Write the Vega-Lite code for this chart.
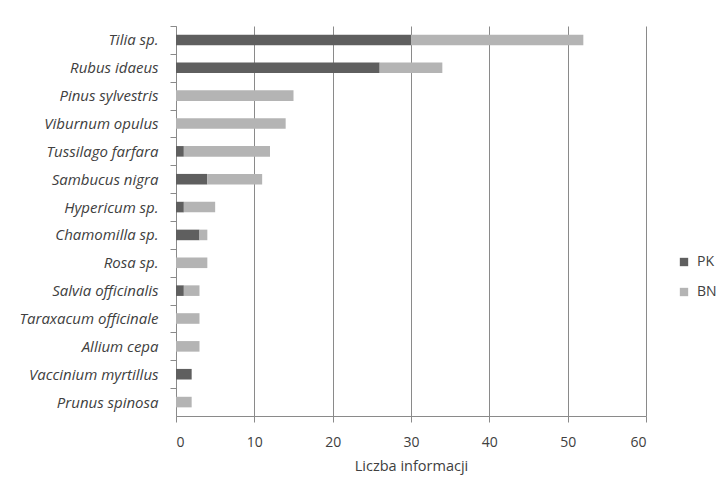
{
  "$schema": "https://vega.github.io/schema/vega-lite/v6.json",
  "width": 470,
  "height": 390,
  "autosize": {"type": "none"},
  "padding": {"left": 176, "top": 26, "right": 77, "bottom": 67},
  "background": "white",
  "config": {
    "view": {"stroke": null},
    "font": "Open Sans",
    "axis": {"labelColor": "#404040", "titleColor": "#404040", "domainColor": "#8a8a8a", "tickColor": "#8a8a8a", "gridColor": "#8a8a8a"}
  },
  "data": {
    "values": [
      {"species": "Tilia sp.", "series": "PK", "value": 30},
      {"species": "Tilia sp.", "series": "BN", "value": 22},
      {"species": "Rubus idaeus", "series": "PK", "value": 26},
      {"species": "Rubus idaeus", "series": "BN", "value": 8},
      {"species": "Pinus sylvestris", "series": "BN", "value": 15},
      {"species": "Viburnum opulus", "series": "BN", "value": 14},
      {"species": "Tussilago farfara", "series": "PK", "value": 1},
      {"species": "Tussilago farfara", "series": "BN", "value": 11},
      {"species": "Sambucus nigra", "series": "PK", "value": 4},
      {"species": "Sambucus nigra", "series": "BN", "value": 7},
      {"species": "Hypericum sp.", "series": "PK", "value": 1},
      {"species": "Hypericum sp.", "series": "BN", "value": 4},
      {"species": "Chamomilla sp.", "series": "PK", "value": 3},
      {"species": "Chamomilla sp.", "series": "BN", "value": 1},
      {"species": "Rosa sp.", "series": "BN", "value": 4},
      {"species": "Salvia officinalis", "series": "PK", "value": 1},
      {"species": "Salvia officinalis", "series": "BN", "value": 2},
      {"species": "Taraxacum officinale", "series": "BN", "value": 3},
      {"species": "Allium cepa", "series": "BN", "value": 3},
      {"species": "Vaccinium myrtillus", "series": "PK", "value": 2},
      {"species": "Prunus spinosa", "series": "BN", "value": 2}
    ]
  },
  "mark": {"type": "bar"},
  "encoding": {
    "y": {
      "field": "species",
      "type": "nominal",
      "sort": null,
      "scale": {"paddingInner": 0.62, "paddingOuter": 0.31},
      "axis": {
        "title": null,
        "tickOffset": -13.93,
        "labelOffset": 13.93,
        "tickSize": 6,
        "labelPadding": 12,
        "labelFontSize": 15,
        "labelFontStyle": "italic",
        "grid": false
      }
    },
    "x": {
      "field": "value",
      "type": "quantitative",
      "stack": "zero",
      "scale": {"domain": [0, 60], "nice": false},
      "axis": {
        "title": "Liczba informacji",
        "values": [0, 10, 20, 30, 40, 50, 60],
        "tickSize": 6,
        "labelPadding": 13,
        "labelFontSize": 14,
        "titleFontSize": 14.5,
        "titleFontWeight": "normal",
        "titlePadding": 10,
        "grid": true
      }
    },
    "color": {
      "field": "series",
      "type": "nominal",
      "scale": {"domain": ["PK", "BN"], "range": ["#5f5f5f", "#b4b4b4"]},
      "legend": {
        "title": null,
        "orient": "none",
        "legendX": 501,
        "legendY": 229,
        "symbolType": "square",
        "symbolSize": 70,
        "symbolStrokeWidth": 0,
        "labelFontSize": 14,
        "labelColor": "#404040",
        "rowPadding": 16,
        "labelOffset": 6
      }
    },
    "order": {"field": "series", "sort": "descending"}
  }
}
